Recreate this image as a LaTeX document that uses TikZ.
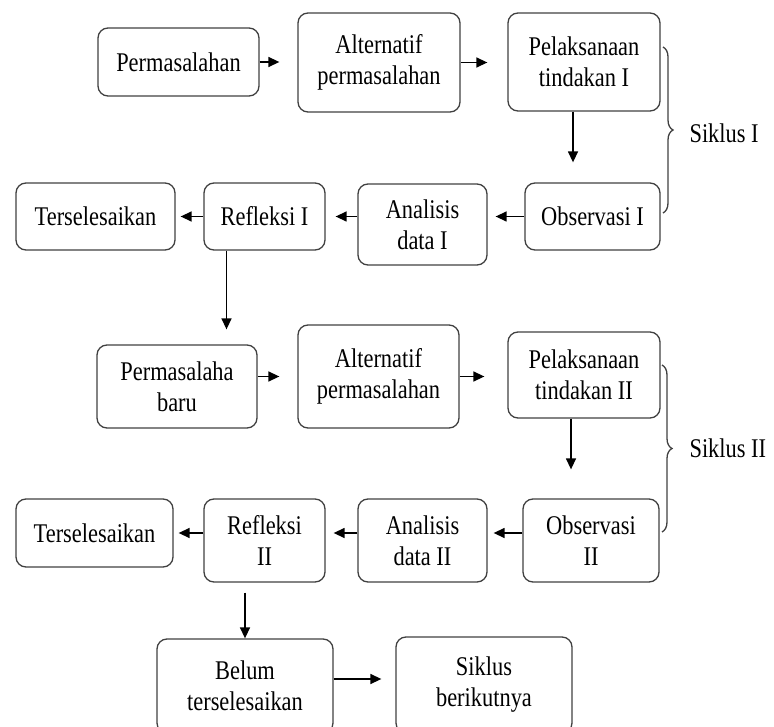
\documentclass[tikz,border=0pt]{standalone}
\usepackage{fontspec}
\setmainfont{Liberation Serif}[FakeStretch=0.83]
\usetikzlibrary{positioning,arrows.meta,decorations.pathreplacing}

\begin{document}
\begin{tikzpicture}[x=1pt,y=-1pt,
  box/.style={draw=black!75,line width=1.3pt,rounded corners=10pt,align=center,
    inner sep=0pt,font=\fontsize{27}{31}\selectfont},
  arr/.style={line width=1.4pt,-{Triangle[length=11pt,width=10pt]}},
  brace/.style={decorate,decoration={brace,amplitude=10pt},line width=1.3pt,draw=black!75},
  lbl/.style={anchor=west,font=\fontsize{27}{31}\selectfont}]

  \useasboundingbox (0,0) rectangle (774,727);
  \clip (0,0) rectangle (774,727);

  % siklus I
  \node[box,minimum width=161pt,minimum height=68pt] (p1) at (178.5,62) {Permasalahan};
  \node[box,minimum width=162pt,minimum height=99pt] (a1) at (379,62.5) {Alternatif\\permasalahan};
  \node[box,minimum width=152pt,minimum height=98pt] (t1) at (584,62) {Pelaksanaan\\tindakan I};
  \node[box,minimum width=135pt,minimum height=67pt] (o1) at (592.5,216.5) {Observasi I};
  \node[box,minimum width=129pt,minimum height=81pt] (d1) at (422.5,224.5) {Analisis\\data I};
  \node[box,minimum width=121pt,minimum height=67pt] (r1) at (264.5,216.5) {Refleksi I};
  \node[box,minimum width=159pt,minimum height=67pt] (s1) at (95.5,216.5) {Terselesaikan};

  \draw[arr,shorten >=18pt] (p1.east) -- (p1.east -| a1.west);
  \draw[arr,shorten >=20pt] (a1.east) -- (a1.east -| t1.west);
  \draw[arr,shorten >=20pt] ([xshift=-11pt]t1.south) -- ([xshift=-11pt]t1.south |- o1.north);
  \draw[arr,shorten >=8pt] (o1.west) -- (o1.west -| d1.east);
  \draw[arr,shorten >=10pt] (r1.east -| d1.west) -- (r1.east);
  \draw[arr,shorten >=5pt] (r1.west) -- (r1.west -| s1.east);

  \coordinate (b1top) at (663,47);
  \coordinate (b1bot) at (663,213);
  \draw[brace] (b1top) -- (b1bot);
  \node[lbl] (k1) at (686,133) {Siklus I};

  % siklus II
  \node[box,minimum width=160pt,minimum height=83pt] (p2) at (177,386.5) {Permasalaha\\baru};
  \node[box,minimum width=161pt,minimum height=103pt] (a2) at (378.5,376.5) {Alternatif\\permasalahan};
  \node[box,minimum width=152pt,minimum height=86pt] (t2) at (584,375) {Pelaksanaan\\tindakan II};
  \node[box,minimum width=136pt,minimum height=83pt] (o2) at (591,540.5) {Observasi\\II};
  \node[box,minimum width=129pt,minimum height=83pt] (d2) at (422.5,540.5) {Analisis\\data II};
  \node[box,minimum width=121pt,minimum height=83pt] (r2) at (264.5,540.5) {Refleksi\\II};
  \node[box,minimum width=157pt,minimum height=68pt] (s2) at (94.5,533) {Terselesaikan};

  \draw[arr,shorten >=15pt] ([xshift=-38pt]r1.south) -- ([xshift=-38pt]r1.south |- p2.north);
  \draw[arr,shorten >=18pt] (a2.west -| p2.east) -- (a2.west);
  \draw[arr,shorten >=23pt] (a2.east) -- (a2.east -| t2.west);
  \draw[arr,shorten >=29pt] ([xshift=-13pt]t2.south) -- ([xshift=-13pt]t2.south |- o2.north);
  \draw[arr,shorten >=6pt] (o2.west |- s2) -- (d2.east |- s2);
  \draw[arr,shorten >=8pt] (d2.west |- s2) -- (r2.east |- s2);
  \draw[arr,shorten >=5pt] (r2.west |- s2) -- (s2.east);

  \coordinate (b2top) at (662,365);
  \coordinate (b2bot) at (662,532);
  \draw[brace] (b2top) -- (b2bot);
  \node[lbl] (k2) at (686,448) {Siklus II};

  % lanjutan
  \node[box,minimum width=176pt,minimum height=94pt] (b) at (245,686) {Belum\\terselesaikan};
  \node[box,minimum width=176pt,minimum height=96pt] (n) at (484,685) {Siklus\\berikutnya};

  \draw[arr,shorten <=10pt] ([xshift=-19.5pt]r2.south) -- ([xshift=-19.5pt]r2.south |- b.north);
  \draw[arr,shorten >=14pt] ([yshift=7pt]b.east) -- ([yshift=7pt]b.east -| n.west);
\end{tikzpicture}
\end{document}
